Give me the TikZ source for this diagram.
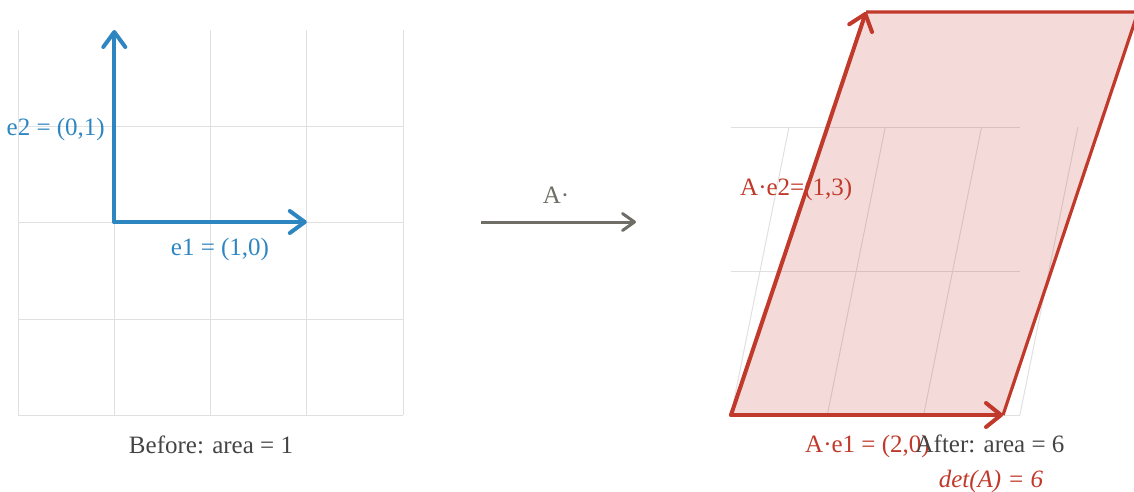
\documentclass[tikz,border=0pt]{standalone}
\usepackage{fontspec}
\setmainfont{Liberation Serif}
\usetikzlibrary{arrows.meta}
\definecolor{vblue}{HTML}{2E86C1}
\definecolor{vred}{HTML}{C0392B}
\definecolor{gridc}{HTML}{E0E0E0}
\definecolor{mapc}{HTML}{6E6E66}
\definecolor{capc}{HTML}{444444}
\begin{document}
\begin{tikzpicture}[x=1pt,y=-1pt,
  gridline/.style={draw=gridc,line width=1pt},
  vecblue/.style={draw=vblue,line width=4pt,line cap=round,-{Straight Barb[length=15pt,width=22pt,round]}},
  vecred/.style={draw=vred,line width=4pt,line cap=round,-{Straight Barb[length=15pt,width=24pt,round]}},
  maparrow/.style={draw=mapc,line width=3pt,-{Straight Barb[length=12pt,width=17pt,round]}},
  edgered/.style={draw=vred,line width=3.2pt,line join=round},
  lbl/.style={font=\fontsize{25}{30}\selectfont,inner sep=0pt},
  ]
\clip (0,0) rectangle (1134,491);
% left grid
\foreach \x in {18,114.3,210.5,306.8,403} \draw[gridline] (\x,30) -- (\x,415);
\foreach \y in {126,222,319,415} \draw[gridline] (18,\y) -- (403,\y);
% basis vectors
\coordinate (O) at (114.3,222);
\coordinate (E1) at (306.8,222);
\coordinate (E2) at (114.3,30);
\draw[vecblue] (O) -- (E1);
\draw[vecblue] (O) -- (E2);
\node[lbl,text=vblue,anchor=base east] (e2lbl) at (105,135) {e2 = (0,1)};
\node[lbl,text=vblue,anchor=base] (e1lbl) at (220,255) {e1 = (1,0)};
\node[lbl,text=capc,anchor=base] (before) at (211,453) {Before: area = 1};
% map arrow
\coordinate (m0) at (481,222);
\coordinate (m1) at (636,222);
\draw[maparrow] (m0) -- (m1);
\node[lbl,text=mapc,anchor=base] (maplbl) at (556,203) {A·};
% right grid
\foreach \y in {127,271,415} \draw[gridline] (731,\y) -- (1020,\y);
\foreach \k in {0,1,2,3} \draw[gridline] (731+96.3*\k,415) -- (789+96.3*\k,127);
% parallelogram
\coordinate (P0) at (731,415);
\coordinate (P1) at (1003,415);
\coordinate (P2) at (866,12);
\coordinate (P3) at (1138,12);
\fill[vred,opacity=0.18] (P0) -- (P1) -- (P3) -- (P2) -- cycle;
\draw[edgered] (P1) -- (P3) -- (P2);
\draw[vecred] (P0) -- (P1);
\draw[vecred] (P0) -- (P2);
\node[lbl,text=vred,anchor=base west] (ae2) at (740,195) {A·e2=(1,3)};
\node[lbl,text=vred,anchor=base west] (ae1) at (805,452) {A·e1 = (2,0)};
\node[lbl,text=capc,anchor=base] (after) at (990,452) {After: area = 6};
\node[lbl,text=vred,anchor=base,font=\fontsize{25}{30}\selectfont\itshape] (det) at (991,487) {det(A) = 6};
\end{tikzpicture}
\end{document}
